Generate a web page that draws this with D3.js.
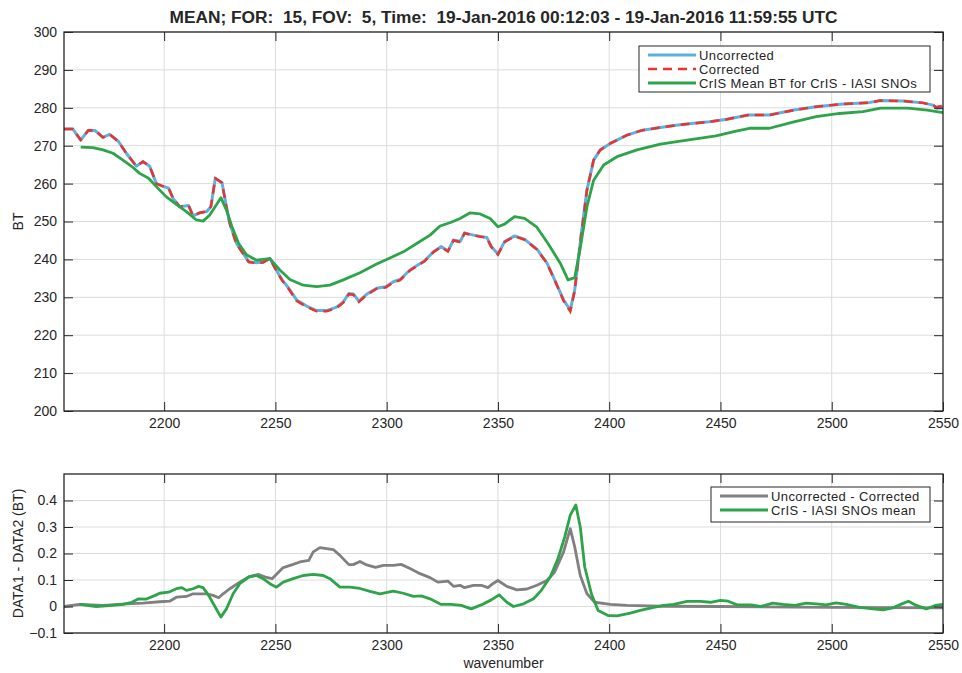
<!DOCTYPE html>
<html><head><meta charset="utf-8">
<script src="https://cdn.jsdelivr.net/npm/d3@7"></script>
<style>
html,body{margin:0;padding:0;background:#fff;}
svg{display:block;}
text{font-family:"Liberation Sans",Arial,Helvetica,sans-serif;fill:#262626;}
</style></head>
<body>
<svg id="chart" width="962" height="673"></svg>
<script>
// ---------------- DATA ----------------
const titleText = "MEAN; FOR:  15, FOV:  5, Time:  19-Jan-2016 00:12:03 - 19-Jan-2016 11:59:55 UTC";
const xTicks = [2200, 2250, 2300, 2350, 2400, 2450, 2500, 2550];
const topYTicks = [200, 210, 220, 230, 240, 250, 260, 270, 280, 290, 300];
const botYTicks = [-0.1, 0, 0.1, 0.2, 0.3, 0.4];
const topLegend = ["Uncorrected", "Corrected", "CrIS Mean BT for CrIS - IASI SNOs"];
const botLegend = ["Uncorrected - Corrected", "CrIS - IASI SNOs mean"];

const wnTop = [2155,2159,2162.5,2166,2169,2172.5,2175.5,2179.5,2183,2187.5,2190.5,2193.5,2196.5,2199,2202,2204,2207,2211,2213,2216,2219,2221,2223,2226,2228,2229.5,2232.5,2235.5,2238,2241.5,2244.5,2247.5,2250,2253,2256,2259.5,2264,2268.5,2273,2277.5,2280.5,2283,2285,2287.5,2291,2295.5,2299.5,2303,2306,2310.5,2314,2317,2321,2324.5,2327.5,2330,2333,2335,2339,2345,2347,2350,2353,2357.5,2362,2367.5,2372,2375.5,2379.5,2382.5,2384.5,2387.5,2390,2393,2396,2400.5,2408,2415,2423,2430,2438,2445,2453,2462.5,2472,2483,2493,2505,2516,2522,2532,2541,2545.5,2547,2550];
const uncorrected = [274.4,274.4,271.5,274.1,274.0,272.2,273.0,271.1,268.0,264.6,265.8,264.6,260.0,259.4,258.8,256.1,253.9,254.2,251.5,252.3,252.6,253.9,261.4,260.2,253.9,249.5,244.2,241.6,239.4,239.1,239.3,240.3,237.6,234.6,232.4,229.3,227.7,226.5,226.5,227.4,228.8,231.0,230.9,229.0,230.8,232.4,232.8,234.1,234.7,237.2,238.5,239.6,242.0,243.4,242.2,245.1,244.7,247.0,246.4,245.8,243.4,241.4,244.7,246.2,245.3,242.7,239.1,234.6,229.3,226.6,231.9,247.0,258.3,266.2,268.9,270.6,272.8,274.1,274.8,275.4,275.9,276.3,277.0,278.1,278.1,279.4,280.3,281.0,281.3,281.9,281.8,281.3,280.7,279.9,280.0];
const corrected = [274.4,274.4,271.5,274.1,274.0,272.2,273.0,271.1,268.0,264.6,265.8,264.6,260.0,259.4,258.8,256.1,253.9,254.2,251.5,252.3,252.6,253.9,261.4,260.2,253.8,249.4,244.1,241.5,239.3,239.0,239.2,240.2,237.5,234.5,232.2,229.1,227.5,226.3,226.3,227.2,228.6,230.8,230.7,228.8,230.6,232.3,232.6,233.9,234.5,237.1,238.4,239.5,241.9,243.3,242.1,245.0,244.6,246.9,246.3,245.7,243.3,241.3,244.6,246.1,245.2,242.6,239.0,234.5,229.1,226.3,231.7,246.9,258.3,266.2,268.9,270.6,272.8,274.1,274.8,275.4,275.9,276.3,277.0,278.1,278.1,279.4,280.3,281.0,281.3,281.9,281.8,281.3,280.7,280.2,280.5];

const wnMean = [2162.5,2168,2172.5,2177,2181.5,2185.5,2189,2193,2196.5,2201,2205.5,2210,2214.5,2217.5,2220.5,2223.5,2225.5,2228,2230.5,2233.5,2237,2241.5,2247.5,2252,2256.5,2262.5,2268.5,2274.5,2280.5,2288,2295.5,2300,2307.5,2313.5,2319.5,2324,2329,2333,2337.5,2342,2346.5,2350,2353,2357.5,2362,2367.5,2372.5,2378,2381.5,2384.5,2387,2390,2393,2397.5,2403.5,2412.5,2423,2435,2448,2456,2463,2472,2483,2493,2503.5,2514,2522,2534,2543,2550];
const crisMean = [269.6,269.5,268.9,268.0,266.2,264.5,262.7,261.4,259.2,256.5,254.5,252.6,250.4,250.1,251.7,254.4,256.3,253.0,248.6,244.2,241.2,239.8,240.2,237.2,234.7,233.2,232.8,233.2,234.6,236.5,238.8,240.0,242.0,244.2,246.4,248.8,249.8,250.8,252.3,252.0,250.8,248.6,249.3,251.3,250.8,248.5,244.2,239.0,234.6,235.2,243.0,253.9,260.9,264.9,267.1,268.9,270.4,271.5,272.6,273.7,274.6,274.6,276.3,277.7,278.5,279.0,279.9,279.9,279.4,278.7];

const wnDiff = [2155,2162,2172.5,2183,2190.5,2198,2202.5,2205.5,2210,2213,2219,2222,2224.5,2226.5,2229.5,2234,2238.5,2242.5,2245.5,2248.5,2251.5,2253.5,2258,2261,2265,2267,2270,2276,2279,2283,2285,2288,2291,2295,2298.5,2303,2306.5,2310.5,2315,2319.5,2323,2327.5,2330,2333,2335,2339,2342.5,2345.5,2348,2350,2354,2358.5,2363,2367.5,2372,2375.5,2379.5,2382.5,2384.5,2387,2390,2393.5,2400.5,2408,2423,2450,2500,2550];
const uncMinusCorr = [0.0,0.008,0.004,0.01,0.013,0.018,0.02,0.035,0.038,0.048,0.048,0.042,0.033,0.048,0.067,0.092,0.114,0.121,0.111,0.105,0.13,0.147,0.159,0.168,0.174,0.206,0.222,0.215,0.193,0.158,0.158,0.17,0.157,0.148,0.155,0.155,0.159,0.143,0.124,0.109,0.092,0.096,0.076,0.08,0.071,0.08,0.08,0.071,0.088,0.098,0.076,0.063,0.066,0.08,0.098,0.13,0.206,0.294,0.225,0.117,0.048,0.016,0.008,0.004,0.001,0.0,-0.003,-0.005];

const wnSno = [2162,2169.5,2175.5,2181.5,2185.5,2188.5,2192,2196,2198,2202,2205.5,2208,2210,2213,2215.5,2217.5,2220,2223,2225.5,2228,2231,2234,2238,2241.5,2244.5,2247.5,2250.5,2253.5,2258,2262.5,2267,2271.5,2274.5,2279,2283.5,2288,2292.5,2297,2303,2307.5,2312,2315.5,2319.5,2324.5,2329,2333.5,2338,2342.5,2347,2350.5,2354,2357,2361.5,2366,2369.5,2373.5,2377,2380,2382.5,2385,2387,2389,2392,2395,2399.5,2403.5,2409.5,2414,2420,2424.5,2429,2435,2441,2445.5,2450,2453.5,2457.5,2463.5,2468,2473.5,2478,2483.5,2488.5,2493,2497.5,2502,2506.5,2512.5,2518.5,2523,2527.5,2531.5,2534.5,2538,2542.5,2546.5,2550];
const snoMean = [0.008,0.0,0.003,0.008,0.016,0.029,0.028,0.042,0.05,0.054,0.067,0.071,0.061,0.067,0.076,0.071,0.042,-0.003,-0.04,-0.009,0.048,0.086,0.111,0.117,0.105,0.086,0.073,0.092,0.105,0.117,0.121,0.117,0.105,0.073,0.073,0.068,0.057,0.048,0.058,0.05,0.038,0.04,0.029,0.008,0.008,0.004,-0.009,0.006,0.025,0.044,0.016,0.0,0.01,0.029,0.061,0.111,0.181,0.262,0.345,0.383,0.3,0.149,0.048,-0.015,-0.034,-0.035,-0.025,-0.015,-0.003,0.004,0.008,0.019,0.019,0.016,0.023,0.02,0.006,0.006,0.0,0.013,0.008,0.004,0.013,0.01,0.006,0.014,0.008,-0.003,-0.009,-0.013,-0.005,0.01,0.02,0.004,-0.009,0.004,0.008];

// ---------------- LAYOUT ----------------
const svg = d3.select("#chart");
const L = 64, R = 943;
const topT = 32, topB = 411;
const botT = 474, botB = 633;
const gridCol = "#dcdcdc", axisCol = "#262626";
const cBlue = "#5fb0e0", cRed = "#e8332f", cGreen = "#2ea44a", cGray = "#808080";
const FONT = '"Liberation Sans",Arial,Helvetica,sans-serif';

const x = d3.scaleLinear().domain([2155, 2550]).range([L, R]);
const yTop = d3.scaleLinear().domain([200, 300]).range([topB, topT]);
const yBot = d3.scaleLinear().domain([-0.1, 0.5]).range([botB, botT]);

function panel(y, yTicks, top, bot) {
  const g = svg.append("g");
  g.selectAll(".gx").data(xTicks.filter(t => t < 2550)).enter().append("line")
    .attr("x1", d => x(d)).attr("x2", d => x(d)).attr("y1", top).attr("y2", bot)
    .attr("stroke", gridCol).attr("stroke-width", 1);
  g.selectAll(".gy").data(yTicks).enter().append("line")
    .attr("x1", L).attr("x2", R).attr("y1", d => y(d)).attr("y2", d => y(d))
    .attr("stroke", gridCol).attr("stroke-width", 1);
  return g;
}

function frame(y, yTicks, top, bot, yFmt) {
  const g = svg.append("g");
  const tl = 9;
  g.append("g").attr("transform", `translate(0,${bot})`)
    .call(d3.axisBottom(x).tickValues(xTicks).tickSize(-tl).tickPadding(7).tickFormat(d3.format("d")));
  g.append("g").attr("transform", `translate(0,${top})`)
    .call(d3.axisTop(x).tickValues(xTicks).tickSize(-tl).tickFormat(""));
  g.append("g").attr("transform", `translate(${L},0)`)
    .call(d3.axisLeft(y).tickValues(yTicks).tickSize(-tl).tickPadding(7).tickFormat(yFmt));
  g.append("g").attr("transform", `translate(${R},0)`)
    .call(d3.axisRight(y).tickValues(yTicks).tickSize(-tl).tickFormat(""));
  g.selectAll(".domain").remove();
  g.selectAll(".tick line").attr("stroke", axisCol).attr("stroke-width", 1);
  g.selectAll(".tick text").style("font-family", FONT)
    .style("font-size", "14px").attr("fill", axisCol);
  g.append("rect").attr("x", L).attr("y", top).attr("width", R - L).attr("height", bot - top)
    .attr("fill", "none").attr("stroke", axisCol).attr("stroke-width", 1.3);
  return g;
}

// ---------- top panel ----------
panel(yTop, topYTicks, topT, topB);
const lineTop = (xs, ys) => d3.line().x((d, i) => x(xs[i])).y((d, i) => yTop(ys[i]))(ys);
svg.append("clipPath").attr("id", "cTop").append("rect")
  .attr("x", L).attr("y", topT).attr("width", R - L).attr("height", topB - topT);
const gTop = svg.append("g").attr("clip-path", "url(#cTop)");
gTop.append("path").attr("d", lineTop(wnTop, uncorrected)).attr("fill", "none")
  .attr("stroke", cBlue).attr("stroke-width", 3).attr("stroke-linejoin", "round");
gTop.append("path").attr("d", lineTop(wnTop, corrected)).attr("fill", "none")
  .attr("stroke", cRed).attr("stroke-width", 2.5).attr("stroke-dasharray", "9,6");
gTop.append("path").attr("d", lineTop(wnMean, crisMean)).attr("fill", "none")
  .attr("stroke", cGreen).attr("stroke-width", 2.8).attr("stroke-linejoin", "round");
frame(yTop, topYTicks, topT, topB, d3.format("d"));

// ---------- bottom panel ----------
panel(yBot, botYTicks, botT, botB);
const lineBot = (xs, ys) => d3.line().x((d, i) => x(xs[i])).y((d, i) => yBot(ys[i]))(ys);
svg.append("clipPath").attr("id", "cBot").append("rect")
  .attr("x", L).attr("y", botT).attr("width", R - L).attr("height", botB - botT);
const gBot = svg.append("g").attr("clip-path", "url(#cBot)");
gBot.append("path").attr("d", lineBot(wnDiff, uncMinusCorr)).attr("fill", "none")
  .attr("stroke", cGray).attr("stroke-width", 2.8).attr("stroke-linejoin", "round");
gBot.append("path").attr("d", lineBot(wnSno, snoMean)).attr("fill", "none")
  .attr("stroke", cGreen).attr("stroke-width", 2.8).attr("stroke-linejoin", "round");
frame(yBot, botYTicks, botT, botB, d => d === 0 ? "0" : d3.format(".1f")(d));

// ---------- title & labels ----------
svg.append("text").attr("x", (L + R) / 2).attr("y", 23).attr("text-anchor", "middle")
  .style("font-size", "16px").style("font-weight", "bold").style("white-space", "pre")
  .attr("textLength", 668).attr("lengthAdjust", "spacingAndGlyphs")
  .attr("fill", "#000").text(titleText);
svg.append("text").attr("transform", `translate(23,${(topT + topB) / 2}) rotate(-90)`)
  .attr("text-anchor", "middle").style("font-size", "14px").text("BT");
svg.append("text").attr("transform", `translate(23,${(botT + botB) / 2}) rotate(-90)`)
  .attr("text-anchor", "middle").style("font-size", "14px").text("DATA1 - DATA2 (BT)");
svg.append("text").attr("x", (L + R) / 2).attr("y", 668).attr("text-anchor", "middle")
  .style("font-size", "14px").text("wavenumber");

// ---------- legends ----------
function legend(x0, y0, w, h, items) {
  const g = svg.append("g");
  g.append("rect").attr("x", x0).attr("y", y0).attr("width", w).attr("height", h)
    .attr("fill", "#fff").attr("stroke", axisCol).attr("stroke-width", 1);
  items.forEach((it, i) => {
    const yy = y0 + 9 + i * 14;
    g.append("line").attr("x1", x0 + 9).attr("x2", x0 + 57).attr("y1", yy).attr("y2", yy)
      .attr("stroke", it.color).attr("stroke-width", it.w).attr("stroke-dasharray", it.dash || null);
    g.append("text").attr("x", x0 + 60).attr("y", yy + 4.5).style("font-size", "13px")
      .style("letter-spacing", "0.4px").attr("fill", "#111").text(it.label);
  });
}
legend(639, 46, 291, 46, [
  {label: topLegend[0], color: cBlue, w: 3},
  {label: topLegend[1], color: cRed, w: 2.5, dash: "9,6"},
  {label: topLegend[2], color: cGreen, w: 2.8}
]);
legend(711, 487, 219, 35, [
  {label: botLegend[0], color: cGray, w: 2.8},
  {label: botLegend[1], color: cGreen, w: 2.8}
]);
</script>
</body></html>
